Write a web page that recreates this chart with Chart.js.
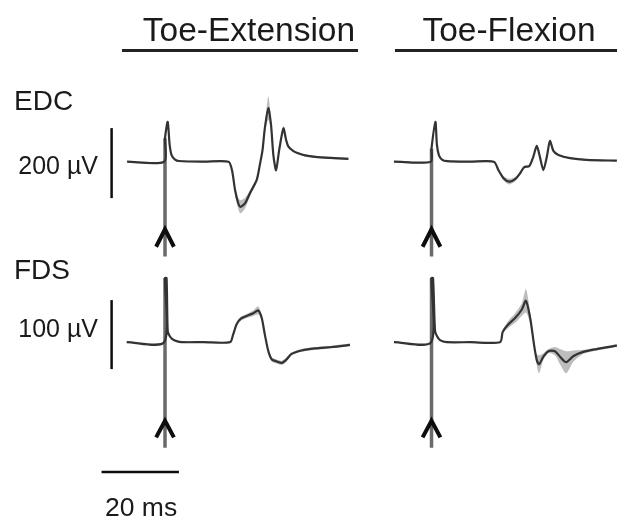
<!DOCTYPE html>
<html>
<head>
<meta charset="utf-8">
<script src="https://cdn.jsdelivr.net/npm/chart.js@4.4.1/dist/chart.umd.min.js"></script>
<style>
  html, body { margin: 0; padding: 0; background: #ffffff; }
  #wrap { position: relative; width: 617px; height: 520px; overflow: hidden; font-family: "Liberation Sans", Arial, Helvetica, sans-serif; color: #1a1a1a; }
  #c { position: absolute; left: 0; top: 0; }
  .lbl { position: absolute; white-space: nowrap; }
  .title { font-size: 33.5px; text-align: center; border-bottom: 3px solid #222; height: 38px; line-height: 38px; box-sizing: content-box; }
  .muscle { font-size: 28px; line-height: 28px; }
  .bar { font-size: 25px; line-height: 25px; text-align: right; width: 90px; }
</style>
</head>
<body>
<div id="wrap">
  <canvas id="c" width="617" height="520"></canvas>
  <div class="lbl title" id="t1" style="left:122px; top:11px; width:218px; padding-left:18px;"></div>
  <div class="lbl title" id="t2" style="left:395px; top:11px; width:228px;"></div>
  <div class="lbl muscle" id="m1" style="left:14px; top:87px;"></div>
  <div class="lbl muscle" id="m2" style="left:14px; top:256px;"></div>
  <div class="lbl bar" id="b1" style="left:8px; top:153px;"></div>
  <div class="lbl bar" id="b2" style="left:8px; top:316px;"></div>
  <div class="lbl" id="b3" style="left:105px; top:494px; font-size:26.5px; line-height:26px;"></div>
</div>
<script>
// ---- labels ----
const conditions = ["Toe-Extension", "Toe-Flexion"];
const muscles = ["EDC", "FDS"];
const ampBarEDC = 200;   // µV
const ampBarFDS = 100;   // µV
const timeBar = 20;      // ms

// ---- EDC, toe-extension (time ms, amplitude µV, spread µV) ----
const edcExtT  = [-9.8, -0.2, 0, 0.7, 1.2, 1.7, 2.6, 3.6, 10, 16.4, 17.3, 18.1, 18.9, 19.5, 20.7, 22.0, 23.7, 24.5, 25.2, 25.8, 26.7, 27.4, 28.0, 28.7, 29.5, 30.6, 31.3, 31.9, 33.1, 34.4, 36.2, 38.8, 42.6, 47.4];
const edcExtV  = [0, 0, 67, 114, 48, 19, 6, 2, 0, 0, -24, -81, -118, -129, -118, -89, -52, -9, 33, 96, 153, 105, 19, -24, 33, 95, 62, 43, 31, 24, 18, 14, 11, 8];
const edcExtSD = [2, 2, 0, 0, 2, 2, 2, 2, 2, 2, 4, 9, 16, 19, 15, 9, 6, 5, 5, 10, 34, 12, 6, 6, 5, 8, 5, 4, 3, 3, 3, 3, 3, 3];

// ---- EDC, toe-flexion ----
const edcFlxT  = [-9.7, -0.2, 0, 1.0, 1.4, 1.9, 2.7, 4.0, 10, 16.1, 17.3, 18.6, 20.1, 21.6, 22.9, 23.9, 25.3, 26.3, 27.2, 28.0, 28.9, 29.8, 30.6, 31.5, 32.8, 35.8, 40.1, 47.9];
const edcFlxV  = [0, 0, 38, 114, 48, 19, 6, 1.5, 0, 0, -24, -47, -57, -50, -33, -16, -12, 14, 45, 14, -24, 14, 59, 31, 19, 10, 5, 3];
const edcFlxSD = [2, 2, 0, 0, 2, 2, 2, 2, 2, 2, 3, 6, 8, 6, 4, 3, 3, 3, 5, 3, 4, 3, 6, 3, 3, 2, 2, 2];

// ---- FDS, toe-extension ----
const fdsExtT  = [-9.9, -0.2, 0, 0.4, 0.7, 1.2, 2.0, 3.0, 4.2, 10, 16.8, 17.6, 18.5, 19.6, 21.1, 22.8, 24.1, 25.0, 25.8, 26.7, 27.6, 28.9, 30.2, 31.4, 32.7, 35.3, 38.8, 43.1, 47.8];
const fdsExtV  = [0, 0, 93, 93, 16, 9, 4, 1.5, 0, 0, 0, 11, 26, 34, 38, 42, 46, 35, 11, -13, -25, -28, -30, -25, -17, -12, -9, -7, -4];
const fdsExtSD = [1, 1, 0, 0, 1, 1, 1, 1, 1, 1, 1, 2, 3, 3, 3, 4, 6, 3, 2, 2, 3, 3, 3, 3, 2, 2, 2, 2, 2];

// ---- FDS, toe-flexion ----
const fdsFlxT  = [-9.7, -0.1, 0, 0.4, 0.9, 1.4, 2.2, 3.9, 10, 17.7, 18.4, 19.7, 21.6, 23.3, 24.4, 25.5, 26.5, 27.2, 27.8, 28.9, 30.2, 31.9, 33.2, 34.8, 36.7, 39.2, 42.7, 47.9];
const fdsFlxV  = [0, 0, 93, 93, 17, 9, 3, 0, 0, 0, 15, 25, 35, 47, 60, 35, -4, -26, -32, -21, -13, -13, -21, -29, -20, -14, -10, -5];
const fdsFlxSD = [1, 1, 0, 0, 1, 1, 1, 1, 1, 1, 2, 5, 7, 9, 17, 8, 4, 8, 13, 5, 3, 6, 11, 16, 8, 3, 2, 2];

// stimulus artefact extent / arrow (µV) per row
const stimTopEDC = [67, 38], stimBottomEDC = -271, arrowTipEDC = -193, arrowWingEDC = -243;
const stimTopFDS = [93, 93], stimBottomFDS = -153, arrowTipFDS = -114, arrowWingFDS = -138;
const arrowHalfWidth = 2.3; // ms

// ---- text ----
document.getElementById('t1').textContent = conditions[0];
document.getElementById('t2').textContent = conditions[1];
document.getElementById('m1').textContent = muscles[0];
document.getElementById('m2').textContent = muscles[1];
document.getElementById('b1').textContent = ampBarEDC + ' µV';
document.getElementById('b2').textContent = ampBarFDS + ' µV';
document.getElementById('b3').textContent = timeBar + ' ms';

const pts = (t, v) => t.map((x, i) => ({ x, y: v[i] }));
const band = (t, v, sd, s) => t.map((x, i) => ({ x, y: v[i] + s * sd[i] }));

const LINE = '#333333', BAND = '#bdbdbd', SHAFT = '#6a6a6a', INK = '#0d0d0d';
const datasets = [];

// higher "order" values are painted first (underneath)
function trace(t, v, sd, xID, yID) {
  datasets.push({ order: 4, data: band(t, v, sd, 1), xAxisID: xID, yAxisID: yID, showLine: true, borderWidth: 0, borderColor: 'rgba(0,0,0,0)', pointRadius: 0, fill: false, tension: 0.25, clip: false });
  datasets.push({ order: 3, data: band(t, v, sd, -1), xAxisID: xID, yAxisID: yID, showLine: true, borderWidth: 0, borderColor: 'rgba(0,0,0,0)', backgroundColor: BAND, pointRadius: 0, fill: '-1', tension: 0.25, clip: false });
  datasets.push({ order: 1, data: pts(t, v), xAxisID: xID, yAxisID: yID, showLine: true, borderWidth: 2.2, borderColor: LINE, pointRadius: 0, fill: false, tension: 0.25, clip: false });
}
function seg(data, xID, yID, color, w, order) {
  datasets.push({ order, data, xAxisID: xID, yAxisID: yID, showLine: true, borderWidth: w, borderColor: color, pointRadius: 0, fill: false, tension: 0, clip: false, borderCapStyle: 'butt', borderJoinStyle: 'miter' });
}

// stimulus shafts + arrows
[['xL', 0], ['xR', 1]].forEach(([xa, k]) => {
  seg([{ x: 0, y: stimTopEDC[k] }, { x: 0, y: stimBottomEDC }], xa, 'yE', SHAFT, 3.5, 2);
  seg([{ x: -arrowHalfWidth, y: arrowWingEDC }, { x: 0, y: arrowTipEDC }, { x: arrowHalfWidth, y: arrowWingEDC }], xa, 'yE', INK, 4, 0);
  seg([{ x: 0, y: stimTopFDS[k] }, { x: 0, y: stimBottomFDS }], xa, 'yF', SHAFT, 3.5, 2);
  seg([{ x: -arrowHalfWidth, y: arrowWingFDS }, { x: 0, y: arrowTipFDS }, { x: arrowHalfWidth, y: arrowWingFDS }], xa, 'yF', INK, 4, 0);
});

trace(edcExtT, edcExtV, edcExtSD, 'xL', 'yE');
trace(edcFlxT, edcFlxV, edcFlxSD, 'xR', 'yE');
trace(fdsExtT, fdsExtV, fdsExtSD, 'xL', 'yF');
trace(fdsFlxT, fdsFlxV, fdsFlxSD, 'xR', 'yF');

// scale bars
const barX = -13.8;
seg([{ x: barX, y: -ampBarEDC * 0.52 }, { x: barX, y: ampBarEDC * 0.48 }], 'xL', 'yE', INK, 2.5, 0);
seg([{ x: barX, y: -ampBarFDS * 0.39 }, { x: barX, y: ampBarFDS * 0.61 }], 'xL', 'yF', INK, 2.5, 0);
seg([{ x: -16.4, y: -188 }, { x: -16.4 + timeBar, y: -188 }], 'xL', 'yF', INK, 2.5, 0);

new Chart(document.getElementById('c'), {
  type: 'scatter',
  data: { datasets },
  options: {
    responsive: false, animation: false, events: [],
    layout: { padding: 0 },
    plugins: { legend: { display: false }, tooltip: { enabled: false }, title: { display: false } },
    elements: { point: { radius: 0 } },
    scales: {
      xL: { axis: 'x', type: 'linear', position: 'bottom', display: false, min: -42.64, max: 116.80 },
      xR: { axis: 'x', type: 'linear', position: 'bottom', display: false, min: -111.50, max: 47.93 },
      yE: { axis: 'y', type: 'linear', position: 'left', display: false, min: -1023.7, max: 462.0 },
      yF: { axis: 'y', type: 'linear', position: 'left', display: false, min: -257.7, max: 495.9 }
    }
  }
});
</script>
</body>
</html>
